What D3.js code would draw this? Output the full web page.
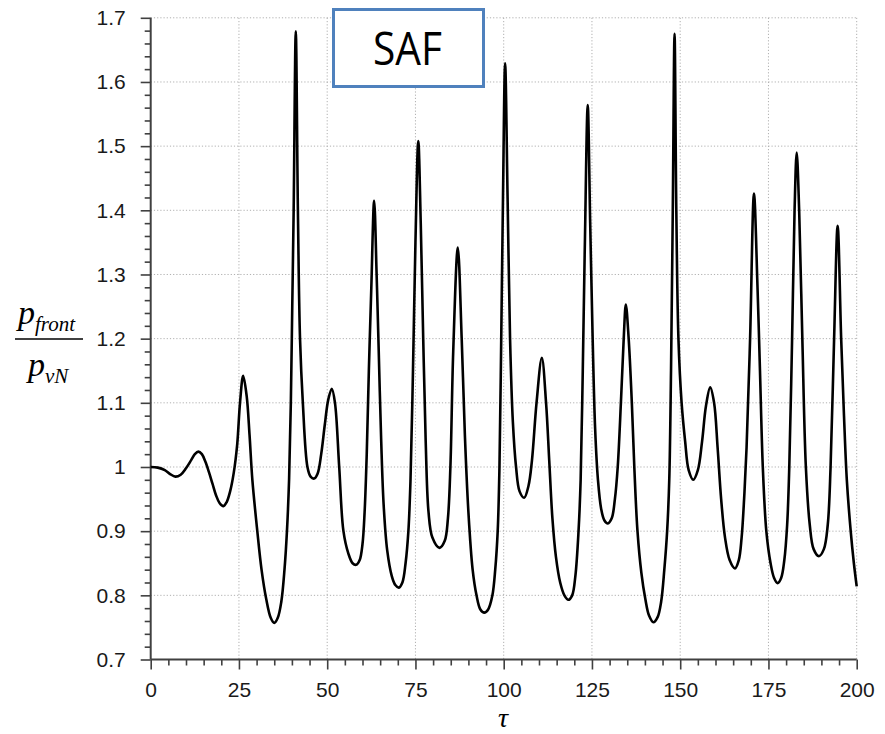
<!DOCTYPE html>
<html>
<head>
<meta charset="utf-8">
<script src="https://cdn.jsdelivr.net/npm/d3@7"></script>
<style>
  html, body { margin: 0; padding: 0; background: #fff; }
  svg { display: block; }
</style>
</head>
<body>
<svg id="chart" width="885" height="734"></svg>
<script>
// Front pressure history p_front / p_vN versus time tau
const tau = [
  0, 2, 4, 5.5, 7, 8.5, 10, 11.5, 12.5, 13.5,
  14.5, 15.5, 16.5, 17.5, 18.5, 19.5, 20.6, 21.5, 22.5, 23.5,
  24.5, 25.3, 26.2, 27.2, 28.0, 28.8, 30.2, 31.4, 32.7, 34.0,
  35.0, 36.0, 37.0, 37.9, 38.6, 39.2, 39.7, 40.1, 40.5, 41.1,
  41.7, 42.3, 43.1, 44.4, 45.3, 46.3, 47.3, 48.3, 49.3, 50.3,
  51.3, 52.2, 53.4, 54.6, 56.0, 57.2, 58.2, 59.2, 60.0, 60.6,
  61.2, 61.8, 62.5, 63.3, 64.0, 64.6, 65.3, 66.0, 67.0, 68.3,
  69.3, 70.3, 71.3, 72.2, 73.0, 73.6, 74.3, 75.0, 75.8, 76.5,
  77.2, 77.9, 78.7, 79.8, 81.8, 83.3, 84.2, 84.9, 85.7, 87.0,
  88.1, 89.0, 90.0, 91.2, 92.3, 93.4, 94.5, 95.6, 96.8, 97.6,
  98.3, 98.8, 99.3, 99.8, 100.4, 101.1, 101.8, 102.6, 103.5, 104.5,
  105.8, 107.0, 108.0, 109.3, 110.8, 112.0, 112.9, 113.8, 114.8, 116.0,
  117.2, 118.3, 119.4, 120.3, 121.2, 121.8, 122.4, 123.0, 123.8, 124.5,
  125.2, 125.9, 126.7, 127.6, 128.5, 129.5, 130.6, 131.5, 132.3, 133.2,
  134.0, 134.6, 135.4, 136.3, 137.0, 137.9, 139.0, 140.1, 141.2, 142.4,
  143.6, 144.6, 145.5, 146.3, 146.9, 147.4, 147.9, 148.4, 148.9, 149.5,
  150.4, 151.4, 152.4, 153.7, 155.0, 156.2, 157.3, 158.5, 159.6, 160.6,
  161.6, 162.7, 164.0, 165.5, 166.6, 167.4, 168.1, 168.8, 169.8, 170.9,
  171.9, 172.6, 173.4, 174.4, 175.6, 176.6, 177.6, 178.6, 179.5, 180.3,
  180.9, 181.7, 182.4, 183.0, 183.7, 184.6, 185.6, 186.7, 187.8, 189.3,
  190.7, 191.8, 192.6, 193.6, 194.6, 195.6, 196.4, 197.2, 198.3, 199.2,
  200
];
const ratio = [
  1.000, 0.999, 0.995, 0.989, 0.985, 0.988, 0.998, 1.011, 1.020, 1.024,
  1.020, 1.008, 0.992, 0.974, 0.956, 0.944, 0.939, 0.945, 0.962, 0.990,
  1.035, 1.100, 1.142, 1.110, 1.050, 0.980, 0.900, 0.840, 0.795, 0.765,
  0.757, 0.765, 0.790, 0.840, 0.900, 0.980, 1.100, 1.250, 1.400, 1.679,
  1.400, 1.200, 1.100, 1.000, 0.985, 0.982, 0.990, 1.020, 1.065, 1.105,
  1.122, 1.100, 1.000, 0.900, 0.865, 0.850, 0.8475, 0.855, 0.880, 0.930,
  1.020, 1.150, 1.280, 1.415, 1.300, 1.180, 1.040, 0.940, 0.870, 0.830,
  0.816, 0.812, 0.820, 0.850, 0.900, 0.980, 1.150, 1.350, 1.508, 1.380,
  1.200, 1.040, 0.930, 0.890, 0.874, 0.885, 0.920, 1.000, 1.180, 1.342,
  1.200, 1.050, 0.930, 0.840, 0.800, 0.778, 0.773, 0.778, 0.800, 0.840,
  0.900, 1.000, 1.200, 1.420, 1.629, 1.420, 1.200, 1.070, 1.000, 0.962,
  0.952, 0.970, 1.010, 1.100, 1.170, 1.100, 1.010, 0.920, 0.860, 0.820,
  0.800, 0.793, 0.800, 0.830, 0.900, 0.980, 1.150, 1.350, 1.564, 1.380,
  1.200, 1.060, 0.980, 0.935, 0.917, 0.912, 0.920, 0.950, 1.000, 1.100,
  1.200, 1.253, 1.200, 1.100, 1.000, 0.900, 0.835, 0.795, 0.768, 0.758,
  0.766, 0.790, 0.840, 0.900, 0.980, 1.150, 1.400, 1.675, 1.400, 1.200,
  1.100, 1.040, 0.995, 0.980, 0.995, 1.040, 1.095, 1.124, 1.100, 1.030,
  0.950, 0.890, 0.855, 0.842, 0.855, 0.890, 0.950, 1.030, 1.200, 1.426,
  1.280, 1.150, 1.000, 0.900, 0.850, 0.827, 0.819, 0.827, 0.855, 0.910,
  1.000, 1.200, 1.400, 1.490, 1.400, 1.200, 1.000, 0.910, 0.872, 0.861,
  0.872, 0.910, 1.000, 1.200, 1.376, 1.200, 1.080, 0.980, 0.900, 0.850,
  0.814
];

const xTicks = [0, 25, 50, 75, 100, 125, 150, 175, 200];
const xTickLabels = ["0", "25", "50", "75", "100", "125", "150", "175", "200"];
const yTicks = [0.7, 0.8, 0.9, 1.0, 1.1, 1.2, 1.3, 1.4, 1.5, 1.6, 1.7];
const yTickLabels = ["0.7", "0.8", "0.9", "1", "1.1", "1.2", "1.3", "1.4", "1.5", "1.6", "1.7"];
const titleText = "SAF";

const svg = d3.select("#chart");
const plotLeft = 150.7, plotRight = 856.7, plotTop = 17.8, plotBottom = 659.5;

const x = d3.scaleLinear().domain([0, 200]).range([plotLeft, plotRight]);
const y = d3.scaleLinear().domain([0.7, 1.7]).range([plotBottom, plotTop]);

// dotted grid at the major ticks
const grid = svg.append("g").attr("stroke", "#b0b0b0").attr("stroke-width", 1)
  .attr("stroke-dasharray", "1.2,2");
grid.selectAll("line.v").data(xTicks.slice(1)).join("line").attr("class", "v")
  .attr("x1", d => x(d)).attr("x2", d => x(d)).attr("y1", plotTop).attr("y2", plotBottom);
grid.selectAll("line.h").data(yTicks.slice(1)).join("line").attr("class", "h")
  .attr("x1", plotLeft).attr("x2", plotRight).attr("y1", d => y(d)).attr("y2", d => y(d));

// minor ticks
const xMinor = d3.range(0, 200.01, 5).filter(v => v % 25 !== 0);
const yMinor = d3.range(0, 50).map(i => 0.7 + i * 0.02).filter((v, i) => i % 5 !== 0);

const axisColor = "#404040";
const fontSans = "'Liberation Sans', Arial, sans-serif";

const xMinorAxis = svg.append("g").attr("transform", `translate(0,${plotBottom})`)
  .call(d3.axisBottom(x).tickValues(xMinor).tickSize(6).tickFormat(""));
const yMinorAxis = svg.append("g").attr("transform", `translate(${plotLeft},0)`)
  .call(d3.axisLeft(y).tickValues(yMinor).tickSize(6).tickFormat(""));

const xAxis = svg.append("g").attr("transform", `translate(0,${plotBottom})`)
  .call(d3.axisBottom(x).tickValues(xTicks).tickSize(10).tickPadding(13)
    .tickFormat((d, i) => xTickLabels[i]));
const yAxis = svg.append("g").attr("transform", `translate(${plotLeft},0)`)
  .call(d3.axisLeft(y).tickValues(yTicks).tickSize(10).tickPadding(15)
    .tickFormat((d, i) => yTickLabels[i]));

[xMinorAxis, yMinorAxis, xAxis, yAxis].forEach(g => {
  g.select(".domain").attr("stroke", axisColor).attr("stroke-width", 2);
  g.selectAll(".tick line").attr("stroke", axisColor).attr("stroke-width", 1.6);
  g.selectAll("text").attr("fill", "#1a1a1a").style("font-family", fontSans).style("font-size", "21px");
});
// keep the axis lines exactly on the plot edges
xAxis.select(".domain").attr("d", `M${plotLeft},0H${plotRight}`);
xMinorAxis.select(".domain").remove();
yAxis.select(".domain").attr("d", `M0,${plotTop}V${plotBottom}`);
yMinorAxis.select(".domain").remove();

// pressure curve
const line = d3.line()
  .x(i => x(tau[i]))
  .y(i => y(ratio[i]))
  .curve(d3.curveCatmullRom.alpha(0.5));
svg.append("path")
  .attr("d", line(d3.range(tau.length)))
  .attr("fill", "none")
  .attr("stroke", "#000")
  .attr("stroke-width", 2.6)
  .attr("stroke-linejoin", "round");

// title box
svg.append("rect")
  .attr("x", 333.5).attr("y", 9.5).attr("width", 150).attr("height", 77)
  .attr("fill", "#fff").attr("stroke", "#4f81bd").attr("stroke-width", 3);
svg.append("text")
  .attr("x", 407.5).attr("y", 65)
  .attr("text-anchor", "middle")
  .attr("textLength", 69).attr("lengthAdjust", "spacingAndGlyphs")
  .style("font-family", "'Open Sans', 'Noto Sans', sans-serif")
  .style("font-size", "45px")
  .attr("fill", "#000")
  .text(titleText);

// y-axis label: p_front / p_vN
const serif = "'Liberation Serif', 'Times New Roman', serif";
const yl = svg.append("g").style("font-family", serif).style("font-style", "italic").attr("fill", "#000");
const num = yl.append("text").attr("x", 18).attr("y", 324);
num.append("tspan").style("font-size", "34px").text("p");
num.append("tspan").style("font-size", "21px").attr("dy", 7).text("front");
yl.append("line").attr("x1", 15).attr("x2", 83).attr("y1", 339).attr("y2", 339)
  .attr("stroke", "#000").attr("stroke-width", 1.6);
const den = yl.append("text").attr("x", 28).attr("y", 376);
den.append("tspan").style("font-size", "34px").text("p");
den.append("tspan").style("font-size", "21px").attr("dy", 7).text("vN");

// x-axis label
svg.append("text")
  .attr("x", 503).attr("y", 727)
  .attr("text-anchor", "middle")
  .style("font-family", serif).style("font-style", "italic").style("font-size", "28px")
  .attr("fill", "#000")
  .text("τ");
</script>
</body>
</html>
